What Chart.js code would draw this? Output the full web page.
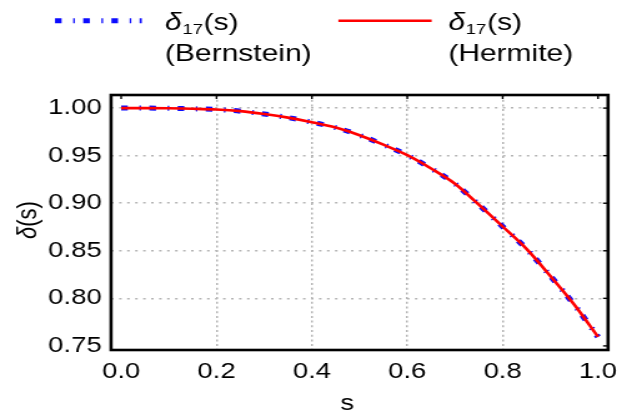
<!DOCTYPE html>
<html>
<head>
<meta charset="utf-8">
<title>delta17</title>
<script src="https://cdn.jsdelivr.net/npm/chart.js@4/dist/chart.umd.min.js"></script>
<style>
  html, body { margin: 0; padding: 0; background: #fff; overflow: hidden; }
  /* the figure is drawn narrow and widened to 637px */
  .wrap { position: absolute; left: 0; top: 0; width: 510px; height: 414px;
          transform: scaleX(1.249); transform-origin: 0 0; }
</style>
</head>
<body>

<div class="wrap"><canvas id="Chart1"></canvas></div>

<script>
  // s 取樣點與 δ17(s) 數值
  var sValues   = [0, 0.05, 0.1, 0.15, 0.2, 0.25, 0.3, 0.35, 0.4, 0.45, 0.5,
                   0.55, 0.6, 0.65, 0.7, 0.75, 0.8, 0.85, 0.9, 0.95, 1.0];
  var bernstein = [1.000, 1.000, 0.9998, 0.9993, 0.9985, 0.9968, 0.9938, 0.9900, 0.9852, 0.9795, 0.9715,
                   0.9615, 0.9505, 0.9365, 0.9205, 0.8985, 0.8755, 0.8520, 0.8235, 0.7935, 0.7595];
  var hermite   = [1.000, 1.000, 0.9998, 0.9993, 0.9985, 0.9968, 0.9938, 0.9900, 0.9852, 0.9795, 0.9715,
                   0.9615, 0.9505, 0.9365, 0.9205, 0.8985, 0.8755, 0.8520, 0.8235, 0.7935, 0.7595];

  var xTicks = [0.0, 0.2, 0.4, 0.6, 0.8, 1.0];
  var yTicks = [0.75, 0.80, 0.85, 0.90, 0.95, 1.00];

  var FONT = "'Liberation Sans', Arial, sans-serif";
  var BLUE = '#0b0bff';
  var RED = '#ff0000';
  var BLUE_DASH = [5.3, 9.3, 1.3, 6.7];

  function toPoints(xs, ys) {
    return xs.map(function (x, i) { return { x: x, y: ys[i] }; });
  }

  // 外框、內側刻度、軸標題與圖例
  var plotFrame = {
    id: 'plotFrame',
    afterDatasetsDraw: function (chart) {
      var ctx = chart.ctx, a = chart.chartArea;
      var xs = chart.scales.x, ys = chart.scales.y;
      ctx.save();
      ctx.strokeStyle = '#000';
      ctx.lineWidth = 1.4;
      xTicks.forEach(function (v) {
        var px = xs.getPixelForValue(v);
        ctx.beginPath(); ctx.moveTo(px, a.top); ctx.lineTo(px, a.top + 4); ctx.stroke();
      });
      yTicks.forEach(function (v) {
        var py = ys.getPixelForValue(v);
        ctx.beginPath(); ctx.moveTo(a.right, py); ctx.lineTo(a.right - 4, py); ctx.stroke();
      });
      ctx.lineWidth = 2.6;
      ctx.strokeRect(a.left, a.top, a.right - a.left, a.bottom - a.top);
      ctx.restore();
    },
    afterDraw: function (chart) {
      var ctx = chart.ctx;
      ctx.save();
      ctx.fillStyle = '#000';
      ctx.textBaseline = 'alphabetic';

      // x 軸標題
      ctx.font = '22px ' + FONT;
      ctx.textAlign = 'center';
      ctx.fillText('s', 278, 410);

      // y 軸標題 δ(s)
      ctx.translate(28.8, 220);
      ctx.rotate(-Math.PI / 2);
      ctx.textAlign = 'left';
      ctx.font = 'italic 22px ' + FONT;
      var w1 = ctx.measureText('δ').width;
      ctx.font = '22px ' + FONT;
      var w2 = ctx.measureText('(s)').width;
      var x0 = -(w1 + w2) / 2;
      ctx.font = 'italic 22px ' + FONT;
      ctx.fillText('δ', x0, 0);
      ctx.font = '22px ' + FONT;
      ctx.fillText('(s)', x0 + w1, 0);
      ctx.setTransform(1, 0, 0, 1, 0, 0);

      // 圖例
      function legendLabel(x, name) {
        ctx.textAlign = 'left';
        ctx.font = 'italic 24px ' + FONT;
        ctx.fillText('δ', x, 29.5);
        var dx = ctx.measureText('δ').width;
        ctx.font = '15px ' + FONT;
        ctx.fillText('17', x + dx + 0.5, 33.5);
        dx += ctx.measureText('17').width + 1;
        ctx.font = '24px ' + FONT;
        ctx.fillText('(s)', x + dx, 29.5);
        ctx.fillText(name, x, 61);
      }
      ctx.lineCap = 'butt';
      ctx.strokeStyle = BLUE;
      ctx.lineWidth = 5;
      ctx.setLineDash(BLUE_DASH);
      ctx.beginPath(); ctx.moveTo(44, 20.7); ctx.lineTo(113.5, 20.7); ctx.stroke();
      ctx.setLineDash([]);
      legendLabel(132.1, '(Bernstein)');

      ctx.strokeStyle = RED;
      ctx.lineWidth = 2.6;
      ctx.beginPath(); ctx.moveTo(270.9, 20.7); ctx.lineTo(345.6, 20.7); ctx.stroke();
      legendLabel(358.9, '(Hermite)');
      ctx.restore();
    }
  };

  Chart.defaults.font.family = FONT;
  Chart.defaults.font.size = 22;
  Chart.defaults.color = '#000';

  var ctx1 = document.getElementById('Chart1');
  var Chart1 = new Chart(ctx1, {
    type: 'line',
    data: {
      datasets: [{
        label: 'Hermite',
        data: toPoints(sValues, hermite),
        borderColor: RED,
        borderWidth: 2.6,
        pointRadius: 0,
        cubicInterpolationMode: 'monotone',
        order: 0
      }, {
        label: 'Bernstein',
        data: toPoints(sValues, bernstein),
        borderColor: BLUE,
        borderWidth: 5,
        borderDash: BLUE_DASH,
        borderCapStyle: 'butt',
        pointRadius: 0,
        cubicInterpolationMode: 'monotone',
        order: 1
      }]
    },
    options: {
      responsive: true,
      maintainAspectRatio: false,
      animation: false,
      layout: { padding: { left: 0, top: 95, right: 23.2, bottom: 0 } },
      plugins: { legend: { display: false }, tooltip: { enabled: false } },
      scales: {
        x: {
          type: 'linear',
          min: -0.0212,
          max: 1.021,
          afterBuildTicks: function (scale) {
            scale.ticks = xTicks.map(function (v) { return { value: v }; });
          },
          afterFit: function (scale) { scale.height = 64; },
          ticks: {
            padding: 9,
            maxRotation: 0,
            callback: function (v) { return v.toFixed(1); }
          },
          grid: {
            drawTicks: false,
            lineWidth: 1.5,
            color: function (c) {
              var v = c.tick ? c.tick.value : null;
              return (v === 0 || v === 1) ? 'rgba(0,0,0,0)' : '#b4b4b4';
            }
          },
          border: { display: false, dash: [2, 2.7] }
        },
        y: {
          type: 'linear',
          min: 0.74569,
          max: 1.01377,
          afterBuildTicks: function (scale) {
            scale.ticks = yTicks.map(function (v) { return { value: v }; });
          },
          afterFit: function (scale) { scale.width = 88.9; },
          ticks: {
            padding: 7.5,
            callback: function (v) { return v.toFixed(2); }
          },
          grid: {
            drawTicks: false,
            lineWidth: 1.5,
            color: function (c) {
              var v = c.tick ? c.tick.value : null;
              return (v === 0.75) ? 'rgba(0,0,0,0)' : '#b4b4b4';
            }
          },
          border: { display: false, dash: [2, 4.4] }
        }
      }
    },
    plugins: [plotFrame]
  });
</script>

</body>
</html>
